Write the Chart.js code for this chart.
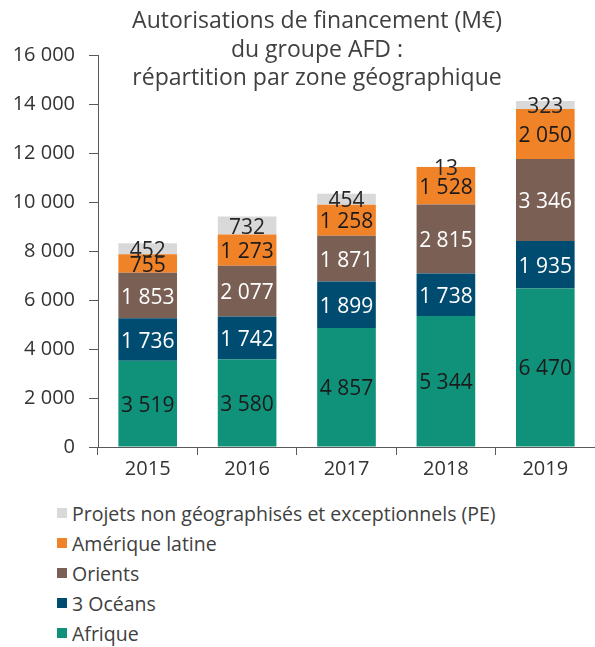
<!DOCTYPE html>
<html>
<head>
<meta charset="utf-8">
<script src="https://cdn.jsdelivr.net/npm/chart.js@4.4.1/dist/chart.umd.min.js"></script>
<style>
  body { margin: 0; background: #fff; font-family: "Open Sans", sans-serif; }
  #wrap { position: relative; width: 595px; height: 647px; }
  #myChart { position: absolute; left: 0; top: 0; }
  #legend { position: absolute; left: 57px; top: 498px; }
  .item { height: 30px; display: flex; align-items: center; font-size: 19.5px; color: #404040; }
  .box { width: 10px; height: 10px; margin-right: 5px; flex: none; }
</style>
</head>
<body>
<div id="wrap">
  <canvas id="myChart" width="595" height="490"></canvas>
  <div id="legend"></div>
</div>
<script>
// data (M€)
var years = ["2015", "2016", "2017", "2018", "2019"];
var afrique = [3519, 3580, 4857, 5344, 6470];
var troisOceans = [1736, 1742, 1899, 1738, 1935];
var orients = [1853, 2077, 1871, 2815, 3346];
var ameriqueLatine = [755, 1273, 1258, 1528, 2050];
var projetsPE = [452, 732, 454, 13, 323];

var yMax = 16000;
var yStep = 2000;

var titleLines = [
  "Autorisations de financement (M€)",
  "du groupe AFD :",
  "répartition par zone géographique",
];

function fmt(v) {
  return String(v).replace(/\B(?=(\d{3})+(?!\d))/g, " ");
}

var ctx = document.getElementById("myChart").getContext("2d");

// title drawn over the plot, offset to the right like the original
var titlePlugin = {
  id: "titleLines",
  afterDraw: function (chart) {
    var c = chart.ctx;
    c.save();
    c.font = "23px 'Open Sans'";
    c.fillStyle = "#404040";
    c.textAlign = "center";
    c.textBaseline = "alphabetic";
    var base = [28, 57, 85];
    titleLines.forEach(function (t, i) {
      c.fillText(t, 317, base[i]);
    });
    c.restore();
  },
};

// value labels in the middle of every segment
var valuePlugin = {
  id: "values",
  afterDatasetsDraw: function (chart) {
    var c = chart.ctx;
    c.save();
    c.font = "21px 'Open Sans'";
    c.textAlign = "center";
    c.textBaseline = "middle";
    chart.data.datasets.forEach(function (ds, i) {
      var meta = chart.getDatasetMeta(i);
      meta.data.forEach(function (bar, j) {
        c.fillStyle = ds.labelColor;
        c.fillText(fmt(ds.data[j]), bar.x, (bar.y + bar.base) / 2 + 2);
      });
    });
    c.restore();
  },
};

var myChart = new Chart(ctx, {
  type: "bar",
  data: {
    labels: years,
    datasets: [
      { label: "Afrique", data: afrique, backgroundColor: "#10927a", labelColor: "#1a1a1a" },
      { label: "3 Océans", data: troisOceans, backgroundColor: "#004c70", labelColor: "#ffffff" },
      { label: "Orients", data: orients, backgroundColor: "#7a6054", labelColor: "#ffffff" },
      { label: "Amérique latine", data: ameriqueLatine, backgroundColor: "#f08228", labelColor: "#1a1a1a" },
      { label: "Projets non géographisés et exceptionnels (PE)", data: projetsPE, backgroundColor: "#d9d9d9", labelColor: "#262626" },
    ],
  },
  options: {
    responsive: false,
    animation: false,
    barPercentage: 0.59,
    categoryPercentage: 1,
    layout: {
      padding: { top: 55, left: 0, right: 0, bottom: 0 },
    },
    scales: {
      x: {
        stacked: true,
        afterFit: function (scale) {
          scale.height = 43;
        },
        border: { color: "#595959", width: 1 },
        grid: {
          offset: true,
          drawOnChartArea: false,
          drawTicks: true,
          tickLength: 8,
          color: "#595959",
        },
        ticks: {
          padding: 2,
          color: "#333333",
          font: { family: "Open Sans", size: 20 },
        },
      },
      y: {
        stacked: true,
        min: 0,
        max: yMax,
        afterFit: function (scale) {
          scale.width = 98;
        },
        border: { color: "#595959", width: 1 },
        grid: {
          drawOnChartArea: false,
          drawTicks: true,
          tickLength: 9,
          color: "#595959",
        },
        ticks: {
          stepSize: yStep,
          padding: 14,
          color: "#333333",
          font: { family: "Open Sans", size: 20 },
          callback: function (v) {
            return fmt(v);
          },
        },
      },
    },
    plugins: {
      legend: { display: false },
      tooltip: { enabled: false },
    },
  },
  plugins: [titlePlugin, valuePlugin],
});

// legend below the chart, top series first
var legend = document.getElementById("legend");
myChart.data.datasets.slice().reverse().forEach(function (ds) {
  var row = document.createElement("div");
  row.className = "item";
  var box = document.createElement("span");
  box.className = "box";
  box.style.background = ds.backgroundColor;
  var txt = document.createElement("span");
  txt.textContent = ds.label;
  row.appendChild(box);
  row.appendChild(txt);
  legend.appendChild(row);
});
</script>
</body>
</html>
